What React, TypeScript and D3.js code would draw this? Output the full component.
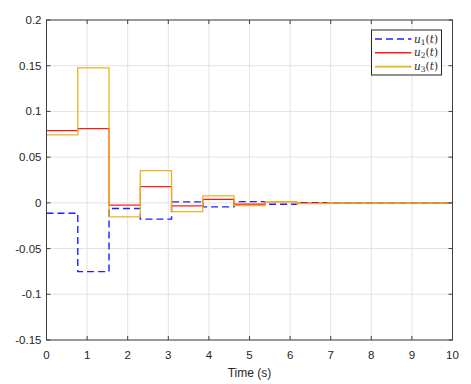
import React from "react";
import * as d3 from "d3";

const times = [0, 0.77, 1.54, 2.31, 3.08, 3.85, 4.62, 5.39, 6.16, 6.93, 7.7, 8.47, 9.24, 10];
const u1 = [-0.0113, -0.0752, -0.0062, -0.0178, 0.0011, -0.0044, 0.0014, -0.0015, 0.0002, 0, 0, 0, 0, 0];
const u2 = [0.079, 0.0813, -0.0025, 0.0178, -0.0033, 0.0038, -0.0014, 0.0014, -0.0004, 0, 0, 0, 0, 0];
const u3 = [0.0744, 0.1477, -0.0153, 0.0353, -0.0095, 0.0077, -0.003, 0.0012, -0.0008, 0, 0, 0, 0, 0];
const xTicks = [0, 1, 2, 3, 4, 5, 6, 7, 8, 9, 10];
const yTicks = [-0.15, -0.1, -0.05, 0, 0.05, 0.1, 0.15, 0.2];
const yTickLabels = ["-0.15", "-0.1", "-0.05", "0", "0.05", "0.1", "0.15", "0.2"];
const seriesNames = ["1", "2", "3"];

const W = 471, H = 384;
const L = 46.5, R = 452.5, T = 20, B = 340;

export default function App() {
  const x = d3.scaleLinear().domain([0, 10]).range([L, R]);
  const y = d3.scaleLinear().domain([-0.15, 0.2]).range([B, T]);
  const line = d3.line<[number, number]>().x(d => x(d[0])).y(d => y(d[1])).curve(d3.curveStepAfter);
  const series = [
    { vals: u1, color: "#1f1fff", dash: "7,4", w: 1.4 },
    { vals: u2, color: "#ff1a1a", dash: undefined, w: 1.2 },
    { vals: u3, color: "#edb120", dash: undefined, w: 1.3 },
  ];
  const axisColor = "#404040";
  const font = "Liberation Sans, Arial, Helvetica, sans-serif";
  return (
    <svg width={W} height={H} style={{ position: "absolute", left: 0, top: 0, background: "#fff" }}>
      <rect x={0} y={0} width={W} height={H} fill="#fff" />
      {xTicks.map(t => (
        <line key={"gx" + t} x1={x(t)} x2={x(t)} y1={T} y2={B} stroke="#e3e3e3" strokeWidth={1} />
      ))}
      {yTicks.map(t => (
        <line key={"gy" + t} x1={L} x2={R} y1={y(t)} y2={y(t)} stroke="#e3e3e3" strokeWidth={1} />
      ))}
      {series.map((s, i) => (
        <path key={i} d={line(times.map((t, j) => [t, s.vals[j]] as [number, number])) || ""}
          fill="none" stroke={s.color} strokeWidth={s.w} strokeDasharray={s.dash} />
      ))}
      <rect x={L} y={T} width={R - L} height={B - T} fill="none" stroke={axisColor} strokeWidth={1} />
      {xTicks.map(t => (
        <g key={"tx" + t}>
          <line x1={x(t)} x2={x(t)} y1={B} y2={B - 4} stroke={axisColor} />
          <line x1={x(t)} x2={x(t)} y1={T} y2={T + 4} stroke={axisColor} />
          <text x={x(t)} y={359} textAnchor="middle" fontFamily={font} fontSize={11.5} fill="#262626">{t}</text>
        </g>
      ))}
      {yTicks.map((t, i) => (
        <g key={"ty" + t}>
          <line x1={L} x2={L + 4} y1={y(t)} y2={y(t)} stroke={axisColor} />
          <line x1={R} x2={R - 4} y1={y(t)} y2={y(t)} stroke={axisColor} />
          <text x={41.5} y={y(t) + 4} textAnchor="end" fontFamily={font} fontSize={11.5} fill="#262626">{yTickLabels[i]}</text>
        </g>
      ))}
      <text x={(L + R) / 2} y={377} textAnchor="middle" fontFamily={font} fontSize={12} fill="#262626">Time (s)</text>
      <g>
        <rect x={371.5} y={30} width={70} height={45} fill="#fff" stroke="#262626" strokeWidth={1} />
        {series.map((s, i) => {
          const yy = 39 + i * 13.8;
          return (
            <g key={"lg" + i}>
              <line x1={375} x2={411.5} y1={yy} y2={yy} stroke={s.color} strokeWidth={s.w + 0.3} strokeDasharray={s.dash} />
              <text x={414} y={yy + 3.5} fontFamily="DejaVu Serif, Liberation Serif, serif" fontSize={10.5} fill="#262626">
                <tspan fontStyle="italic">u</tspan>
                <tspan fontSize={7.5} dy={2}>{seriesNames[i]}</tspan>
                <tspan dy={-2}>(</tspan>
                <tspan fontStyle="italic">t</tspan>
                <tspan>)</tspan>
              </text>
            </g>
          );
        })}
      </g>
    </svg>
  );
}
